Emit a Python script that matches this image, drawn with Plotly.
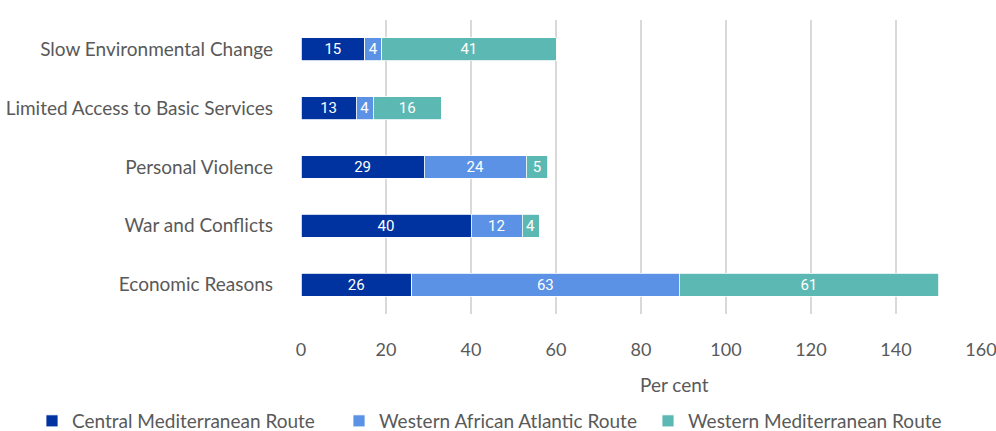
import plotly.graph_objects as go

categories = ["Slow Environmental Change", "Limited Access to Basic Services",
              "Personal Violence", "War and Conflicts", "Economic Reasons"]
central_med = [15, 13, 29, 40, 26]
west_african = [4, 4, 24, 12, 63]
west_med = [41, 16, 5, 4, 61]
series_names = ["Central Mediterranean Route", "Western African Atlantic Route",
                "Western Mediterranean Route"]
colors = ["#0033A0", "#5B92E5", "#5CB8B2"]
x_ticks = [0, 20, 40, 60, 80, 100, 120, 140, 160]

FONT = "Lato, 'Open Sans', sans-serif"
legend_ids = ["legend", "legend2", "legend3"]
legend_x = [32, 339, 648]

fig = go.Figure()
for name, vals, c, lg in zip(series_names, [central_med, west_african, west_med], colors, legend_ids):
    fig.add_trace(go.Bar(
        y=categories, x=vals, name=name, orientation="h", legend=lg,
        marker=dict(color=c, line=dict(color="white", width=0.8)),
        text=[str(v) for v in vals], textposition="inside", textangle=0,
        insidetextanchor="middle", constraintext="none",
        textfont=dict(color="white", size=15, family="'Liberation Sans Narrow', Roboto, sans-serif"),
        hoverinfo="skip",
    ))

legend_common = dict(orientation="h", xref="container", yref="container",
                     xanchor="left", yanchor="middle", y=(431 - 421) / 431,
                     font=dict(size=19, color="#595959"), bgcolor="rgba(0,0,0,0)")
layout_legends = {lg: dict(x=xp / 996, **legend_common) for lg, xp in zip(legend_ids, legend_x)}

fig.update_layout(
    barmode="stack", bargap=0.61,
    width=996, height=431,
    margin=dict(l=301, r=15, t=20, b=117, autoexpand=False),
    paper_bgcolor="white", plot_bgcolor="white",
    font=dict(family=FONT, size=19, color="#595959"),
    showlegend=True,
    annotations=[dict(text="Per cent", xref="paper", yref="paper",
                      x=0.549, y=-(384 - 314) / 294, xanchor="center", yanchor="middle",
                      showarrow=False, font=dict(size=19, color="#595959"))],
    **layout_legends,
)
fig.update_xaxes(range=[0, 160], tickvals=x_ticks, showgrid=True,
                 gridcolor="#D9D9D9", gridwidth=1.5, zeroline=False,
                 showline=False, ticks="", ticklabelstandoff=23,
                 ticklabeloverflow="allow",
                 tickfont=dict(size=18, color="#595959"))
fig.update_yaxes(categoryorder="array", categoryarray=categories[::-1],
                 showgrid=False, zeroline=False, showline=False, ticks="",
                 ticklabelstandoff=27, tickfont=dict(size=19, color="#595959"))

fig.write_html("out.html")
